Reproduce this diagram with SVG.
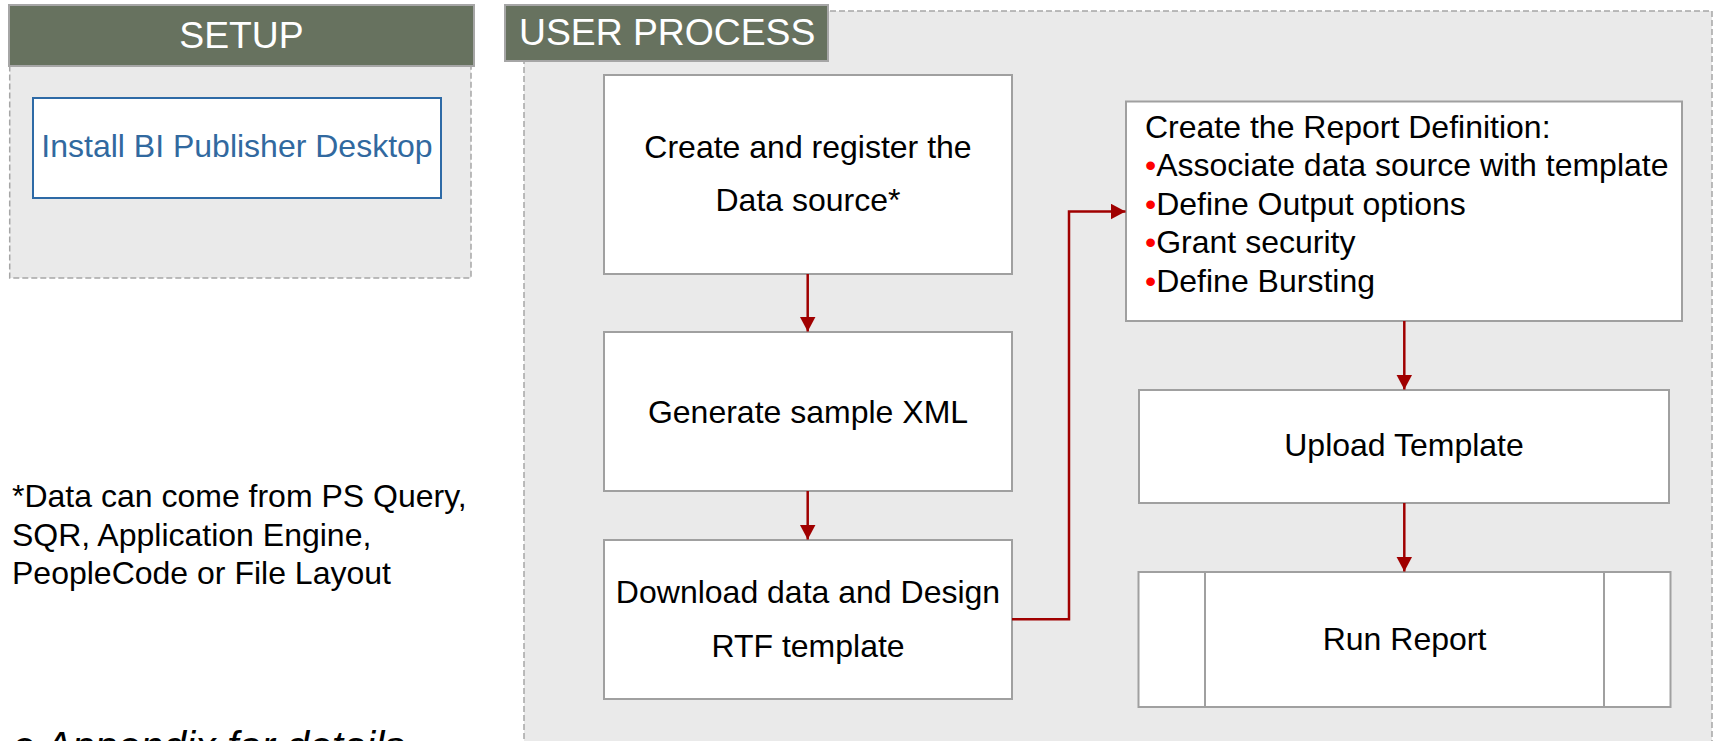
<svg xmlns="http://www.w3.org/2000/svg" width="1715" height="741" viewBox="0 0 1715 741">
<style>
.panel{fill:#EAEAEA;stroke:#A6A6A6;stroke-width:1.5;stroke-dasharray:6 3}
.hdr{fill:#67725F;stroke:#A6A6A6;stroke-width:2}
.hdrt{font-family:"Liberation Sans",Arial,sans-serif;font-size:37.3px;fill:#FFFFFF}
.box{fill:#FFFFFF;stroke:#A0A0A0;stroke-width:2}
.t{font-family:"Liberation Sans",Arial,sans-serif;font-size:32px;fill:#000000}
.c{text-anchor:middle}
.bl{fill:#FF0000}
.conn{fill:none;stroke:#A00000;stroke-width:2.5}
</style>
<defs>
<marker id="ah" viewBox="0 0 16 16" markerWidth="16" markerHeight="16" refX="15" refY="8" orient="auto" markerUnits="userSpaceOnUse">
<path d="M0,0 L15,8 L0,16 Z" fill="#A00000"/>
</marker>
</defs>
<rect width="1715" height="741" fill="#FFFFFF"/>

<g id="setup-panel">
<rect class="panel" x="9.7" y="66" width="461.3" height="212"/>
<rect class="hdr" x="9" y="5" width="465" height="61"/>
<text class="hdrt c" x="241.5" y="48">SETUP</text>
</g>

<g id="user-process-panel">
<rect class="panel" x="524" y="11" width="1188" height="760"/>
<rect class="hdr" x="505" y="5" width="323" height="56"/>
<text class="hdrt" x="519" y="45">USER PROCESS</text>
</g>

<g id="install">
<rect x="33" y="98" width="408" height="100" fill="#FFFFFF" stroke="#2E6AA6" stroke-width="2"/>
<text class="t c" x="237" y="157" style="fill:#31699F">Install BI Publisher Desktop</text>
</g>

<g id="footnote">
<text class="t" x="12" y="507">*Data can come from PS Query,</text>
<text class="t" x="12" y="545.5">SQR, Application Engine,</text>
<text class="t" x="12" y="584">PeopleCode or File Layout</text>
</g>

<g id="appendix-note">
<text x="12" y="760" font-family="'Liberation Sans',Arial,sans-serif" font-size="41" font-style="italic" fill="#000000">e Appendix for details</text>
</g>

<g id="create-data-source">
<rect class="box" x="604" y="75" width="408" height="199"/>
<text class="t c" x="808" y="158.3">Create and register the</text>
<text class="t c" x="808" y="210.7">Data source*</text>
</g>

<g id="generate-xml">
<rect class="box" x="604" y="332" width="408" height="159"/>
<text class="t c" x="808" y="422.7">Generate sample XML</text>
</g>

<g id="download-design">
<rect class="box" x="604" y="540" width="408" height="159"/>
<text class="t c" x="808" y="602.7">Download data and Design</text>
<text class="t c" x="808" y="656.7">RTF template</text>
</g>

<g id="report-definition">
<rect class="box" x="1126" y="101.5" width="556" height="219.5"/>
<text class="t" x="1145" y="138">Create the Report Definition:</text>
<text class="t" x="1145" y="176.4"><tspan class="bl">•</tspan>Associate data source with template</text>
<text class="t" x="1145" y="214.8"><tspan class="bl">•</tspan>Define Output options</text>
<text class="t" x="1145" y="253.2"><tspan class="bl">•</tspan>Grant security</text>
<text class="t" x="1145" y="291.6"><tspan class="bl">•</tspan>Define Bursting</text>
</g>

<g id="upload-template">
<rect class="box" x="1139" y="390" width="530" height="113"/>
<text class="t c" x="1404" y="456">Upload Template</text>
</g>

<g id="run-report">
<rect class="box" x="1138.5" y="572" width="532" height="135"/>
<line x1="1205" y1="572" x2="1205" y2="707" stroke="#A0A0A0" stroke-width="2"/>
<line x1="1604" y1="572" x2="1604" y2="707" stroke="#A0A0A0" stroke-width="2"/>
<text class="t c" x="1404.5" y="650">Run Report</text>
</g>

<g id="connectors">
<path class="conn" d="M807.7,274 V331.5" marker-end="url(#ah)"/>
<path class="conn" d="M807.7,491 V539.5" marker-end="url(#ah)"/>
<path class="conn" d="M1012,619.3 H1069 V211.5 H1125.5" marker-end="url(#ah)"/>
<path class="conn" d="M1404.3,321 V389.5" marker-end="url(#ah)"/>
<path class="conn" d="M1404.3,503 V571.5" marker-end="url(#ah)"/>
</g>
</svg>
